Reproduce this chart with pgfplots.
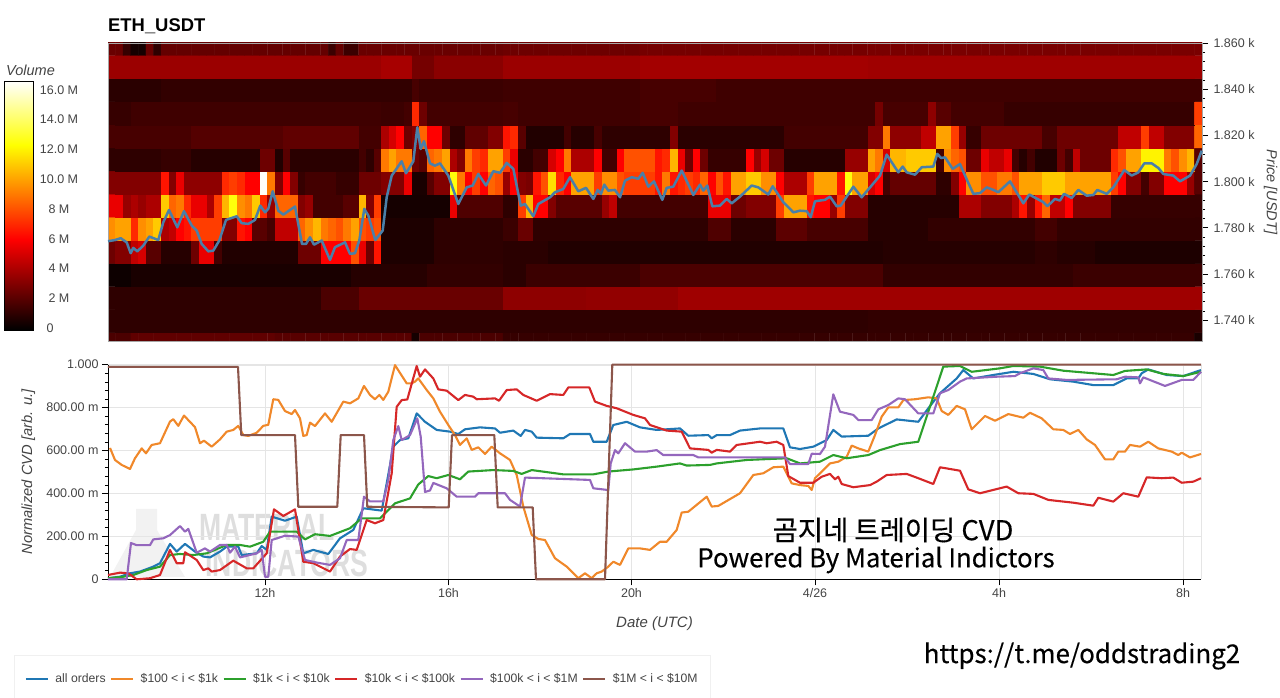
\documentclass[border=0pt]{standalone}
\usepackage{fontspec}
\setmainfont{Liberation Sans}
\newfontfamily\kr[FakeBold=0.3]{Noto Sans CJK KR}
\usepackage{pgfplots}
\pgfplotsset{compat=1.18}
\definecolor{tk}{HTML}{444444}
\definecolor{cBlue}{HTML}{1F77B4}
\definecolor{cOrange}{HTML}{F0882A}
\definecolor{cGreen}{HTML}{2CA02C}
\definecolor{cRed}{HTML}{D62728}
\definecolor{cPurple}{HTML}{9467BD}
\definecolor{cBrown}{HTML}{8C564B}
\definecolor{cPrice}{HTML}{4A7FA8}
\pgfplotsset{colormap={volhot}{rgb255(0)=(0,0,0) rgb255(365)=(255,0,0) rgb255(743)=(255,255,0) rgb255(1000)=(255,255,255)}}
\newcommand\fs[1]{\fontsize{#1}{#1}\selectfont}
% heat map rows: price bin centre, then column/value runs (a value holds until the next listed column)
\newcount\cellc
\gdef\heatcoords{}
\newcommand\addcell[2]{\xdef\heatcoords{\heatcoords (\the\cellc,#1) [#2]}\global\advance\cellc by 1\relax}
\newcommand\heatrow[2]{%
  \global\cellc=0\relax\gdef\prev{0}%
  \foreach \s/\v in {#2}{%
    \loop\ifnum\cellc<\s\relax\addcell{#1}{\prev}\repeat
    \xdef\prev{\v}}%
  \loop\ifnum\cellc<144\relax\addcell{#1}{\prev}\repeat}
\heatrow{1729.6}{0/1.7,3/2.2,22/2,40/0.4,41/1.7,52/1.2,143/0.5}
\heatrow{1739.6}{0/1,100/1.1}
\heatrow{1749.6}{0/1,28/1.7,33/2.4,52/3.3,63/3.4,75/3.7}
\heatrow{1759.6}{0/0.2,3/0.5,32/0.8,42/1.1,52/0.9,55/1.3,70/1.7,102/1.1,127/1.3}
\heatrow{1769.6}{0/2.5,1/3,3/4.5,4/5,5/2,7/0.8,11/2.5,12/5.5,14/1.5,15/0.7,25/2.5,28/6,32/8,33/5.5,34/2.5,35/6.5,36/0.6,43/1,52/0.9,58/0.7,102/0.8,122/1,125/0.8,130/0.6}
\heatrow{1779.6}{0/9.5,1/10,3/7,4/9.5,5/10,6/11,7/4,8/4.5,9/6,10/6.5,11/7.5,15/3,17/6.5,18/6,19/2,21/1.5,22/4.5,25/8.5,26/9.5,27/10.5,28/9,29/8.5,30/8,31/9,32/10,33/8,34/7.5,35/8,36/0.6,43/1,52/1.3,54/2.4,56/1,79/1.8,82/0.9,88/2.1,92/1.6,100/0.8,108/1.1,122/1.5,125/1.1}
\heatrow{1789.6}{0/5.5,2/3.5,3/4,4/3.5,5/4,7/11,8/8.5,9/9,10/7,11/5.5,13/4,14/7.5,15/10.5,16/12.5,17/9.5,18/9,19/11,20/7,21/3.5,22/8.5,25/3,26/3.5,27/1.5,31/2,33/10.5,34/3,35/7.5,36/0.4,45/5.5,46/1.8,52/1,54/7.5,55/10.5,56/6,58/3,59/2,65/3.5,66/4.5,67/1.5,79/5.5,82/2.5,84/3,88/7.5,89/10,92/6.5,93/6,95/3.5,96/7.5,97/3,100/0.8,112/4,115/3,119/4,120/6.5,121/3.5,122/6.5,123/8.5,124/4.5,126/6,127/3,132/1.2}
\heatrow{1799.6}{0/3,7/6.5,8/3,9/5.5,10/3.3,15/7,16/7.5,17/7,18/6,20/16.5,21/9,22/3,23/6,24/3,25/1.2,26/1.5,30/1.2,33/2.5,36/3,39/5.5,40/0.5,42/2,43/3,45/12.5,46/9,47/6,48/7.5,49/6,50/8.5,51/8,52/3.5,53/6,54/3,55/2.8,56/6.5,57/8,58/11.5,59/7,60/6,61/10,64/7.5,65/9.5,67/8,68/7.5,72/6.5,73/9,74/6.5,75/7,76/7.5,77/7,78/8.5,79/6,80/8,81/6.5,82/10,84/11,86/9.5,88/6,89/4,92/7.5,93/10,96/6.5,97/12.5,98/10,100/5,101/6,102/1.5,103/2.3,109/1,111/3,112/6,113/9.5,115/8,117/9,119/8,120/10,123/11,126/10,132/7.5,133/6,134/3,136/1.5,137/3,139/6,142/3.5,143/2}
\heatrow{1809.6}{0/1,7/1.2,11/0.8,20/2.5,22/0.7,23/2,24/0.9,33/1.5,34/1,35/2,36/9,37/10,38/9,40/2.5,41/2,42/8.5,43/9,44/10,45/4,46/3,47/9,48/7.5,49/7,50/10,52/7.5,53/5.5,54/0.9,56/1.5,58/5,59/6,60/9,61/4,64/6,65/1.5,67/6,68/8,72/6.5,73/7,74/10.5,75/5.5,76/2.5,77/6,78/2.5,79/1.2,84/6,85/3.5,86/5,87/2.5,89/0.8,97/3.5,100/10,101/9,102/5,103/10.5,105/11,109/1.5,110/9.5,111/8.5,112/8,113/2.5,115/5.5,116/4.5,118/5.5,119/1.5,120/0.8,121/1.5,122/0.7,125/2.5,126/1.5,127/4.5,128/2.5,132/7,133/8,134/10,136/12,139/9,140/8,141/9.5,142/10.5,143/2}
\heatrow{1819.6}{0/1.6,11/1.9,23/2.2,33/1.5,36/4,37/5,38/6,39/2.5,40/3,41/8.5,42/6,44/2.5,45/1,47/2.2,50/3,52/6.5,53/7,54/2,55/0.7,60/1.5,61/0.8,64/1.6,65/1,74/3,75/0.9,89/1.5,100/3,102/9,103/3.3,107/4.5,109/10,111/7.5,112/3.5,113/1.2,115/2.5,123/1.6,125/2.5,133/4.5,136/7.5,137/4.5,139/3,143/8.5}
\heatrow{1829.6}{0/1.2,3/1.4,36/1.3,39/1.5,40/7,41/2.5,42/1.5,52/1.6,54/1.4,70/1.6,75/1.4,101/2.7,102/1.6,108/3.3,109/2,111/1.5,118/1.2,143/7.5}
\heatrow{1839.6}{0/0.9,7/1.1,40/1.6,41/1.3,52/1.4,70/1.6,80/1.4}
\heatrow{1849.6}{0/3.6,36/3.9,40/2.7,43/3.2,52/3.6,70/3.8,100/3.7}
\heatrow{1859.6}{0/2.4,2/1.2,3/0.4,5/2.4,6/1,7/2.3,29/1.3,30/2.3,31/1.3,33/2.4,52/2.5,70/2.7,100/2.8}
\begin{document}
\begin{tikzpicture}
\path[use as bounding box] (0,0) rectangle (1280pt,698pt);
% heat map
\begin{axis}[at={(108pt,357pt)},anchor=south west,width=1094pt,height=298pt,scale only axis,
  xmin=-0.5,xmax=143.5,ymin=1731,ymax=1860,
  axis x line=none,axis y line*=right,axis line style={-,black},
  colormap name=volhot,point meta min=-0.1,point meta max=16.6,
  ytick={1740,1760,...,1860},yticklabels={1.740 k,1.760 k,1.780 k,1.800 k,1.820 k,1.840 k,1.860 k},
  minor y tick num=4,tick align=outside,major tick length=6pt,minor tick length=3pt,
  tick style={black,line width=.7pt},
  yticklabel style={font=\fs{12.5},text=tk,xshift=2pt},
  ylabel={\fs{14.5}\itshape\color{tk}Price [USDT]},
  ylabel style={at={(axis description cs:1.0626,0.5)},anchor=center,rotate=180},
  clip=true]
\edef\tmp{\noexpand\addplot[matrix plot*,mesh/cols=144,point meta=explicit] coordinates {\heatcoords};}
\tmp
\end{axis}
\draw[gray!70,line width=.5pt] (108pt,655pt) rectangle (1202pt,357pt);
% price line
\begin{axis}[at={(108pt,357pt)},anchor=south west,width=1094pt,height=298pt,scale only axis,
  xmin=108,xmax=1202,ymin=1731,ymax=1860,hide axis,clip=false]
\addplot[cPrice,line width=2.5pt,line join=round] table {
108 1774.2
115 1774.7
120.7 1775.5
126.7 1773.7
130.7 1769
133.3 1771.3
137.3 1769.8
143.3 1772.3
149.3 1776.2
158.3 1774.7
163.3 1782.4
169 1787.7
177.3 1780.2
184 1787.2
191.7 1781
196.7 1778.8
201.7 1773
208.3 1769.8
213.3 1770.1
219.3 1774.5
226 1783.4
236.7 1785
241.7 1782
248.3 1781.7
255 1783.4
260.3 1789.6
265 1786.7
268.3 1788.2
272.7 1795.8
278.3 1787.4
283.3 1785.7
295 1789.2
302 1773
306 1773
310 1775.9
314 1772.7
321.7 1774.5
330 1766.1
335 1771.6
345 1773.7
350 1768.7
355 1769
359.3 1774.5
364.3 1788.2
368.3 1785.3
375.3 1774.7
382.7 1778.8
386.7 1793.2
391.7 1802.6
401.7 1808.8
406 1803.6
413.3 1808.8
417.3 1823.5
420.7 1814.1
424 1817.5
430 1807.9
435 1806.9
440 1807.9
448.3 1802.6
458.3 1790.3
466.7 1797.5
472.7 1798.3
478.3 1803.3
486 1798.3
493.3 1804.5
500 1803.8
506.7 1808.1
513.3 1805.5
520.7 1789.6
525 1790.3
533.3 1785
538.3 1790.3
550 1793.2
555 1795.4
563.3 1796.8
570 1801.9
578.3 1795.8
586 1797.3
593.3 1792.5
597.7 1796.4
601 1794.7
604.3 1798.7
608.3 1796.1
615 1796.4
620 1793.2
625 1800.4
631.7 1801.9
638.3 1801.2
642.7 1803.8
648.3 1797.8
654 1800.1
662.3 1792.1
666.7 1797.3
673.3 1797.8
681.7 1804.8
693.3 1794.2
700 1798.7
703.3 1796.1
707.3 1798.3
712.3 1789.3
720 1789.6
726.7 1792.5
731.7 1790.6
740 1793.5
751.7 1798.3
758.3 1797.5
768.3 1794.4
772.7 1798
783.3 1791.1
793.3 1786.7
800 1787.4
806.7 1787.2
810.7 1784.6
815 1791.5
825 1792.1
830 1793.5
836.7 1789.3
840.7 1789.6
853.3 1797.8
861.7 1793.2
866.7 1795.8
880 1802.6
886.7 1811.7
898.3 1804
902.7 1806.5
906.7 1804
915 1803
921.7 1806.2
933.3 1806.5
937.3 1812
941 1810.2
945 1810.5
952.7 1805.5
960 1807.6
967.3 1800.4
973.3 1794.7
980 1795
986.7 1797.5
993.3 1796.4
998.3 1795.4
1010 1800.1
1023.3 1790.6
1029.3 1794.4
1043.3 1791.1
1047.3 1789.3
1055 1792.5
1060 1791.8
1064 1794.7
1071.7 1792.9
1078.3 1796.4
1086.7 1793.9
1093.3 1794.2
1097.3 1796.4
1106.7 1794.7
1113.3 1797.5
1124.3 1805
1131.7 1802.6
1138.3 1804
1144.3 1807.9
1151.7 1807.9
1158.3 1805.9
1163.3 1803.3
1173.3 1802.6
1180 1800.1
1190 1802.6
1196.7 1807.6
1201.7 1813.4
};
\end{axis}
% colour bar
\begin{axis}[at={(4pt,368pt)},anchor=south west,width=29pt,height=249pt,scale only axis,
  xmin=0,xmax=1,ymin=-0.13,ymax=16.6,
  axis x line=none,axis y line*=right,axis line style={-,black},
  colormap name=volhot,point meta min=-0.1,point meta max=16.6,
  ytick={0,2,...,16},yticklabels={\hspace*{-18pt}0,2 M,4 M,6 M,8 M,10.0 M,12.0 M,14.0 M,16.0 M},
  tick align=inside,major tick length=5pt,tick style={black,line width=.7pt},
  yticklabel style={font=\fs{12.5},text=tk,anchor=center,xshift=26pt}]
\addplot[patch,patch type=rectangle,shader=interp,point meta=y] coordinates {(0,-0.1)(1,-0.1)(1,16.6)(0,16.6)};
\end{axis}
\draw[black,line width=.6pt] (4pt,617pt) rectangle (33pt,368pt);
\node[anchor=west,font=\fs{14.5}\itshape,text=tk,inner sep=0pt] at (6pt,628pt) {Volume};
\node[anchor=west,font=\fs{18.4}\bfseries,inner sep=0pt] at (108pt,671.5pt) {ETH\_USDT};
% watermark
\fill[black!5] (136pt,189pt) -- (157pt,189pt) -- (157pt,168pt) -- (185pt,121pt) -- (110pt,121pt) -- (136pt,168pt) -- cycle;
\node[font=\fs{38}\bfseries,text=black!13,xscale=.7,inner sep=0pt] at (267pt,171pt) {MATERIAL};
\node[font=\fs{38}\bfseries,text=black!13,xscale=.7,inner sep=0pt] at (287pt,135pt) {INDICATORS};
\draw[black!10,line width=.7pt] (108pt,333pt) -- (1201pt,333pt) -- (1201pt,119pt);
% CVD
\begin{axis}[at={(108pt,118.7pt)},anchor=south west,width=1093pt,height=214.6pt,scale only axis,
  xmin=108,xmax=1201,ymin=0,ymax=1,clip=false,
  axis lines=left,axis line style={-,black,line width=.8pt},
  grid=major,grid style={black!10,line width=.7pt},
  xtick={265,448.5,631.5,815,999,1183},xticklabels={12h,16h,20h,4/26,4h,8h},
  ytick={0,.2,.4,.6,.8,1},yticklabels={0,200.00 m,400.00 m,600.00 m,800.00 m,1.000},
  minor y tick num=4,tick align=outside,major tick length=6pt,minor tick length=3pt,
  tick style={black,line width=.7pt},
  ticklabel style={font=\fs{12.5},text=tk},
  xlabel={\fs{15}\itshape\color{tk}Date (UTC)},
  xlabel style={at={(axis description cs:0.5,-0.2)},anchor=center,yshift=-1.5pt},
  ylabel={\fs{14.7}\itshape\color{tk}Normalized CVD [arb. u.]},
  ylabel style={at={(axis description cs:-0.073,0.5)},anchor=center},
  legend columns=6,
  legend style={at={(axis description cs:-0.086,-0.353)},anchor=north west,draw=black!6,line width=.7pt,font=\fs{12.2},text=tk,inner xsep=10.5pt,inner ysep=16.5pt,/tikz/every even column/.append style={column sep=2.5pt},/tikz/every odd column/.append style={column sep=4.5pt}},
  legend image code/.code={\draw[#1] (0pt,0pt)--(22pt,0pt);},
  every axis plot/.append style={line width=2.1pt,line join=round}]
\addplot[cBlue] table {
108 .005
120 .012
130 .028
140 .036
153.3 .059
160 .075
170 .165
176.7 .129
185 .165
195 .129
203.3 .106
210 .102
220 .129
226.7 .152
238.3 .152
241.7 .113
256.7 .121
261.7 .155
266.7 .137
271.7 .292
285 .273
296.7 .292
303.3 .121
313.3 .137
328.3 .118
340 .191
353.3 .230
363.3 .331
381.7 .320
386.7 .447
393.3 .618
400 .649
408.3 .657
416.7 .773
425 .734
436.7 .696
450 .688
458.3 .677
465 .699
480 .708
495 .703
500 .683
513.3 .693
520.7 .668
525 .696
531.7 .688
536.7 .660
563.3 .657
570 .677
590 .677
593.3 .641
606.7 .641
613.3 .719
626.7 .734
640 .708
656.7 .696
680 .703
688.3 .669
708.3 .672
711.7 .657
716.7 .672
730 .672
740 .693
760 .703
783.3 .703
790 .615
800 .607
813.3 .618
826.7 .649
833.3 .696
841.7 .665
868.3 .669
878.3 .703
896.7 .745
918.3 .734
928.3 .797
940 .867
956.7 .936
963.3 .975
973.3 .936
993.3 .952
1013.3 .967
1033.3 .957
1050 .932
1073.3 .921
1093.3 .905
1113.3 .905
1126.7 .936
1138.3 .936
1141.7 .960
1148.3 .978
1166.7 .952
1183.3 .947
1201 .975
};
\addlegendentry{all orders}
\addplot[cOrange] table {
110 .612
115 .556
121.7 .533
130 .514
135 .564
141.7 .610
146 .587
151.7 .626
160 .634
170 .735
173.3 .746
178.3 .715
184 .763
195 .709
200 .634
204 .646
211.7 .618
220 .652
226.7 .688
233.3 .696
238.3 .715
243.3 .672
248.3 .668
256.7 .683
263.3 .715
268.3 .720
273.3 .839
278.3 .836
285 .784
291.7 .770
295 .789
300 .750
303.3 .668
306.7 .672
310 .730
315 .714
325 .773
331.7 .734
343.3 .828
350 .820
358.3 .843
364 .901
370 .859
375 .839
379.3 .859
383.3 .836
388.3 .874
395 .998
406.7 .913
411.7 .913
415 .921
418.3 .936
426.7 .882
433.3 .843
440 .781
448.3 .719
455 .672
460 .626
466.7 .657
471.7 .603
478.3 .615
485 .584
491.7 .618
500 .587
510 .556
516.7 .486
523.3 .339
531.7 .207
538.3 .188
545 .183
555 .098
566.7 .059
578.3 .005
585 .028
591.7 .005
596.7 .028
601.7 .036
608.3 .059
613.3 .082
620 .067
628.3 .144
640 .144
650 .137
660 .175
666.7 .175
676.7 .230
681.7 .311
688.3 .315
706.7 .385
711.7 .339
718.3 .342
740 .401
753.3 .486
763.3 .494
773.3 .522
783.3 .525
791.7 .447
800 .439
808.3 .435
811.7 .416
815 .471
830 .540
838.3 .548
846.7 .571
851.7 .623
858.3 .610
868.3 .595
875 .672
881.7 .758
888.3 .801
898.3 .801
903.3 .835
915 .839
928.3 .848
936.7 .843
941.7 .784
948.3 .766
956.7 .808
965 .792
971.7 .699
985 .761
995 .739
1008.3 .770
1023.3 .753
1030 .776
1041.7 .750
1053.3 .699
1063.3 .696
1070 .677
1078.3 .696
1086.7 .652
1095 .626
1105 .559
1113.3 .559
1118.3 .595
1125 .595
1130 .626
1140 .618
1148.3 .641
1158.3 .610
1171.7 .595
1178.3 .579
1181.7 .590
1190 .568
1201 .584
};
\addlegendentry{\$100 < i < \$1k}
\addplot[cGreen] table {
108 .005
123.3 .012
133.3 .020
146.7 .043
160 .059
170 .113
180 .118
193.3 .113
206.7 .121
226.7 .160
240 .160
250 .152
263.3 .175
270 .222
296.7 .222
305 .186
315 .210
330 .202
350 .238
361.7 .284
380 .284
395 .354
410 .377
418.3 .442
428.3 .481
436.7 .471
448.3 .486
460 .466
468.3 .502
493.3 .509
513.3 .505
521.7 .491
531.7 .509
563.3 .489
593.3 .489
608.3 .502
633.3 .512
656.7 .525
680 .540
686.7 .530
710 .533
716.7 .540
746.7 .556
786.7 .564
800 .540
820 .548
833.3 .579
846.7 .564
868.3 .579
880 .602
900 .630
918.3 .641
943.3 .991
960 .994
971.7 .967
1000 .983
1013.3 .994
1040 .991
1063.3 .972
1113.3 .952
1125 .971
1146.7 .978
1163.3 .957
1183.3 .947
1201 .967
};
\addlegendentry{\$1k < i < \$10k}
\addplot[cRed] table {
108 .020
120 .031
128.3 .028
136.7 0
150 .005
160 .020
170 .137
176.7 .075
183.3 .075
185 .126
196.7 .090
203.3 .043
208.3 .051
211.7 .036
220 .043
233.3 .087
246.7 .051
253.3 .051
266.7 .121
274 .326
283.3 .295
295 .326
303.3 .082
313.3 .075
330 .036
340 .106
350 .141
356.7 .137
366.7 .276
375 .261
383.3 .276
391.7 .494
396.7 .804
401.7 .835
407.3 .838
416.7 .994
420 .944
425 .978
433.3 .936
438.3 .885
446.7 .879
458.3 .835
465 .859
473.3 .851
476.7 .839
495 .843
499 .832
506.7 .882
516.7 .885
523.3 .859
536.7 .832
550 .863
563.3 .859
568.3 .894
589.3 .894
595 .828
606.7 .808
616.7 .797
633.3 .766
645 .750
650 .719
666.7 .693
681.7 .688
690 .610
708.3 .603
711.7 .590
716.7 .603
730 .595
736.7 .626
760 .641
766.7 .634
776.7 .641
783.3 .626
788.3 .481
800 .450
813.3 .450
821.7 .478
830 .491
835 .466
838.3 .478
841.7 .444
853.3 .429
870 .439
876.7 .455
886.7 .486
906.7 .491
918.3 .471
933.3 .444
940 .522
960 .506
968.3 .419
980 .401
1006.7 .432
1018.3 .401
1033.3 .398
1048.3 .370
1073.3 .357
1093.3 .343
1098.3 .380
1113.3 .362
1123.3 .401
1138.3 .385
1146.7 .475
1161.7 .471
1173.3 .474
1181.7 .450
1193.3 .455
1201 .471
};
\addlegendentry{\$10k < i < \$100k}
\addplot[cPurple] table {
108 0
126.7 0
131 .169
136.7 .159
150 .159
153.3 .186
163.3 .191
170 .206
180 .248
185 .222
188.3 .235
196.7 .124
205 .144
210 .129
220 .160
226.7 .160
230 .124
235 .152
240 .102
256.7 .121
261.7 .137
265 .012
268.3 .012
271.7 .183
285 .203
298.3 .199
305 .090
316.7 .078
330 .067
340 .098
346.7 .183
358.3 .183
364 .385
370 .363
383.3 .363
388.3 .463
393.3 .649
398.3 .714
401.7 .649
410 .672
417.3 .750
420.7 .665
425 .407
430 .414
433.3 .449
446.7 .424
456.7 .385
475 .385
478.3 .401
505 .401
510 .370
520 .339
525 .474
590 .463
593.3 .424
608.3 .416
610.7 .540
615 .602
618.3 .587
625 .634
635 .595
646.7 .595
656.7 .602
663.3 .579
693.3 .579
698.3 .568
785 .568
790 .537
808.3 .537
811.7 .585
820 .584
825 .618
833.3 .862
840 .781
853.3 .766
858.3 .742
871.7 .742
878.3 .792
888.3 .812
898.3 .843
905 .839
918.3 .773
933.3 .773
940 .867
948.3 .882
960 .921
966.7 .936
996.7 .944
1015 .947
1020 .960
1033.3 .983
1043.3 .975
1048.3 .936
1066.7 .929
1116.7 .932
1125 .944
1138.3 .941
1140 .913
1143.3 .941
1165 .901
1181.7 .929
1193.3 .929
1201 .967
};
\addlegendentry{\$100k < i < \$1M}
\addplot[cBrown] table {
108 .99
238 .99
241.3 .672
295 .672
298.3 .338
337.3 .338
340.7 .672
364 .672
367.3 .338
448.7 .335
452 .672
494.3 .672
497.7 .335
532.7 .335
536 0
605 0
612.3 1
1201 1
};
\addlegendentry{\$1M < i < \$10M}
\end{axis}
\node[font=\kr\fs{27.4},inner sep=0pt] at (893pt,168pt) {곰지네 트레이딩 CVD};
\node[font=\kr\fs{25.8},inner sep=0pt] at (876pt,138pt) {Powered By Material Indictors};
\node[font=\kr\fs{25.9},inner sep=0pt] at (1082pt,42pt) {https://t.me/oddstrading2};
\end{tikzpicture}
\end{document}
